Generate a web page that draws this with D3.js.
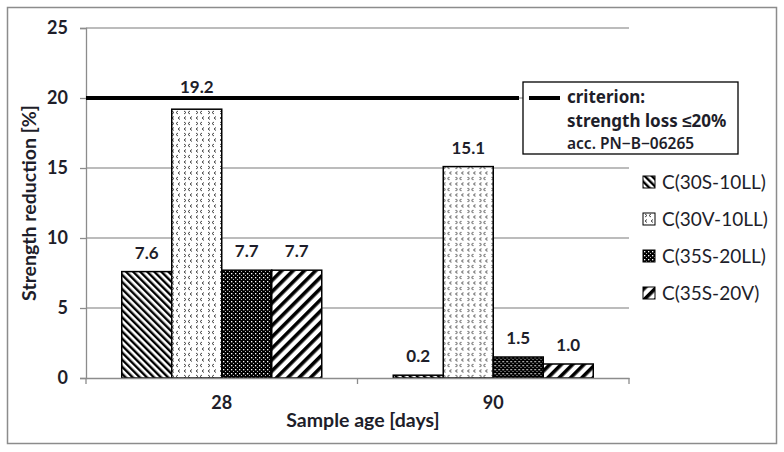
<!DOCTYPE html>
<html>
<head>
<meta charset="UTF-8" />
<script src="https://d3js.org/d3.v7.min.js"></script>
<style>
  body { margin: 0; background: #fff; }
  text { font-family: Lato, "Open Sans", sans-serif; }
</style>
</head>
<body>
<script>
  const categories = ["28", "90"];
  const seriesNames = ["C(30S-10LL)", "C(30V-10LL)", "C(35S-20LL)", "C(35S-20V)"];
  const s30S10LL = [7.6, 0.2];
  const s30V10LL = [19.2, 15.1];
  const s35S20LL = [7.7, 1.5];
  const s35S20V = [7.7, 1.0];
  const criterion = 20;
  const yTicks = [0, 5, 10, 15, 20, 25];
  const criterionText = ["criterion:", "strength loss \u226420%", "acc. PN\u2212B\u221206265"];

  const seriesValues = [s30S10LL, s30V10LL, s35S20LL, s35S20V];
  const data = categories.map((c, i) => ({
    cat: c,
    vals: seriesNames.map((s, j) => ({ key: s, idx: j, value: seriesValues[j][i] }))
  }));

  const width = 784, height = 452;
  const margin = { top: 28, right: 155, bottom: 74, left: 86 };
  const ink = "#1e1e2a";

  const svg = d3.select("body").append("svg")
    .attr("width", width)
    .attr("height", height);

  // patterns
  const defs = svg.append("defs");
  const p1 = defs.append("pattern").attr("id", "pat0").attr("patternUnits", "userSpaceOnUse")
    .attr("width", 5).attr("height", 5).attr("patternTransform", "rotate(-45)");
  p1.append("rect").attr("width", 5).attr("height", 5).attr("fill", "#fff");
  p1.append("rect").attr("width", 2.4).attr("height", 5).attr("fill", "#000");

  const p2 = defs.append("pattern").attr("id", "pat1").attr("patternUnits", "userSpaceOnUse")
    .attr("width", 12).attr("height", 11);
  p2.append("rect").attr("width", 12).attr("height", 11).attr("fill", "#fff");
  p2.append("path").attr("d", "M2,1 L4,2.5 L2,4 M10,6.5 L8,8 L10,9.5")
    .attr("stroke", "#333").attr("stroke-width", 0.9).attr("fill", "none");
  p2.append("path").attr("d", "M8,1 L6,2.5 L8,4 M4,6.5 L2,8 L4,9.5")
    .attr("stroke", "#333").attr("stroke-width", 0.9).attr("fill", "none");

  const p3 = defs.append("pattern").attr("id", "pat2").attr("patternUnits", "userSpaceOnUse")
    .attr("width", 4).attr("height", 4);
  p3.append("rect").attr("width", 4).attr("height", 4).attr("fill", "#000");
  p3.append("rect").attr("x", 1).attr("y", 1).attr("width", 1.3).attr("height", 1.3).attr("fill", "#fff");
  p3.append("rect").attr("x", 3).attr("y", 3).attr("width", 1).attr("height", 1).attr("fill", "#bbb");

  const p4 = defs.append("pattern").attr("id", "pat3").attr("patternUnits", "userSpaceOnUse")
    .attr("width", 8).attr("height", 8).attr("patternTransform", "rotate(45)");
  p4.append("rect").attr("width", 8).attr("height", 8).attr("fill", "#fff");
  p4.append("rect").attr("width", 3.6).attr("height", 8).attr("fill", "#000");

  // outer frame
  svg.append("rect")
    .attr("x", 7.5).attr("y", 7.5)
    .attr("width", 769).attr("height", 436)
    .attr("fill", "#fff")
    .attr("stroke", "#8c8c8c")
    .attr("stroke-width", 1.5);

  const x0 = d3.scaleBand()
    .domain(categories)
    .range([margin.left, width - margin.right])
    .paddingInner(0).paddingOuter(0);

  const x1 = d3.scaleBand()
    .domain(seriesNames)
    .range([0, x0.bandwidth()])
    .paddingInner(0).paddingOuter(0.715);

  const y = d3.scaleLinear()
    .domain([0, 25])
    .range([height - margin.bottom, margin.top]);

  // gridlines
  svg.append("g")
    .selectAll("line")
    .data(yTicks.filter(d => d > 0))
    .join("line")
    .attr("x1", margin.left).attr("x2", width - margin.right)
    .attr("y1", d => y(d)).attr("y2", d => y(d))
    .attr("stroke", "#a6a6a6").attr("stroke-width", 1.3);

  // y axis
  const yAxis = svg.append("g")
    .attr("transform", `translate(${margin.left},0)`)
    .call(d3.axisLeft(y).tickValues(yTicks).tickSize(6).tickPadding(12));
  yAxis.select(".domain").attr("stroke", "#8c8c8c").attr("stroke-width", 1.3);
  yAxis.selectAll(".tick line").attr("stroke", "#8c8c8c").attr("stroke-width", 1.3);
  yAxis.selectAll(".tick text")
    .attr("font-size", 18).attr("font-weight", "bold").attr("fill", ink)
    .style("font-family", "Lato, sans-serif");

  // bars
  const groups = svg.append("g")
    .selectAll("g")
    .data(data)
    .join("g")
    .attr("transform", d => `translate(${x0(d.cat)},0)`);

  groups.selectAll("rect")
    .data(d => d.vals)
    .join("rect")
    .attr("x", d => x1(d.key))
    .attr("y", d => y(d.value))
    .attr("width", x1.bandwidth())
    .attr("height", d => y(0) - y(d.value))
    .attr("fill", d => `url(#pat${d.idx})`)
    .attr("stroke", "#000")
    .attr("stroke-width", 1.5);

  // value labels; pushed above the criterion line when they would touch it
  groups.selectAll("text")
    .data(d => d.vals)
    .join("text")
    .attr("x", d => x1(d.key) + x1.bandwidth() / 2)
    .attr("y", d => {
      let b = y(d.value) - 13;
      if (b > y(criterion) - 4 && b - 13 < y(criterion) + 3) b = y(criterion) - 5;
      return b;
    })
    .attr("text-anchor", "middle")
    .attr("font-size", 17)
    .attr("font-weight", "bold")
    .attr("fill", ink)
    .text(d => d3.format(".1f")(d.value));

  // x axis
  const xAxis = svg.append("g")
    .attr("transform", `translate(0,${y(0)})`)
    .call(d3.axisBottom(x0).tickSize(0).tickPadding(18));
  xAxis.select(".domain").attr("stroke", "#8c8c8c").attr("stroke-width", 1.3);
  xAxis.selectAll(".tick text")
    .attr("font-size", 18).attr("font-weight", "bold").attr("fill", ink)
    .style("font-family", "Lato, sans-serif");
  // category boundary ticks
  xAxis.selectAll(".bound")
    .data(categories.map(c => x0(c)).concat([x0(categories[categories.length - 1]) + x0.bandwidth()]))
    .join("line")
    .attr("x1", d => d).attr("x2", d => d)
    .attr("y1", 0).attr("y2", 6)
    .attr("stroke", "#8c8c8c").attr("stroke-width", 1.3);

  // criterion line
  svg.append("line")
    .attr("x1", margin.left).attr("x2", 519)
    .attr("y1", y(criterion)).attr("y2", y(criterion))
    .attr("stroke", "#000").attr("stroke-width", 4);

  // criterion legend box
  const cb = svg.append("g").attr("transform", "translate(523,82)");
  cb.append("rect")
    .attr("width", 215).attr("height", 72)
    .attr("fill", "#fff").attr("stroke", "#000").attr("stroke-width", 1.3);
  cb.append("line")
    .attr("x1", 6).attr("x2", 37).attr("y1", 16).attr("y2", 16)
    .attr("stroke", "#000").attr("stroke-width", 4);
  cb.selectAll("text")
    .data(criterionText)
    .join("text")
    .attr("x", 44)
    .attr("y", (d, i) => [21, 45, 67][i])
    .attr("font-size", (d, i) => i < 2 ? 17 : 15.5)
    .attr("font-weight", (d, i) => i < 2 ? "bold" : "600")
    .attr("fill", ink)
    .style("font-family", "'Noto Sans', sans-serif")
    .text(d => d);

  // series legend
  const lg = svg.append("g").attr("transform", "translate(643,176)");
  const item = lg.selectAll("g")
    .data(seriesNames)
    .join("g")
    .attr("transform", (d, i) => `translate(0,${i * 37})`);
  item.append("rect")
    .attr("width", 12).attr("height", 12)
    .attr("fill", (d, i) => `url(#pat${i})`)
    .attr("stroke", "#000").attr("stroke-width", 1);
  item.append("text")
    .attr("x", 19).attr("y", 13)
    .attr("font-size", 19)
    .attr("fill", ink)
    .text(d => d);

  // axis titles
  svg.append("text")
    .attr("transform", `translate(36,${(y(0) + y(25)) / 2}) rotate(-90)`)
    .attr("text-anchor", "middle")
    .attr("font-size", 19.5)
    .attr("font-weight", "bold")
    .attr("fill", ink)
    .text("Strength reduction [%]");

  svg.append("text")
    .attr("x", 363)
    .attr("y", 427)
    .attr("text-anchor", "middle")
    .attr("font-size", 19.5)
    .attr("font-weight", "bold")
    .attr("fill", ink)
    .text("Sample age [days]");
</script>
</body>
</html>
